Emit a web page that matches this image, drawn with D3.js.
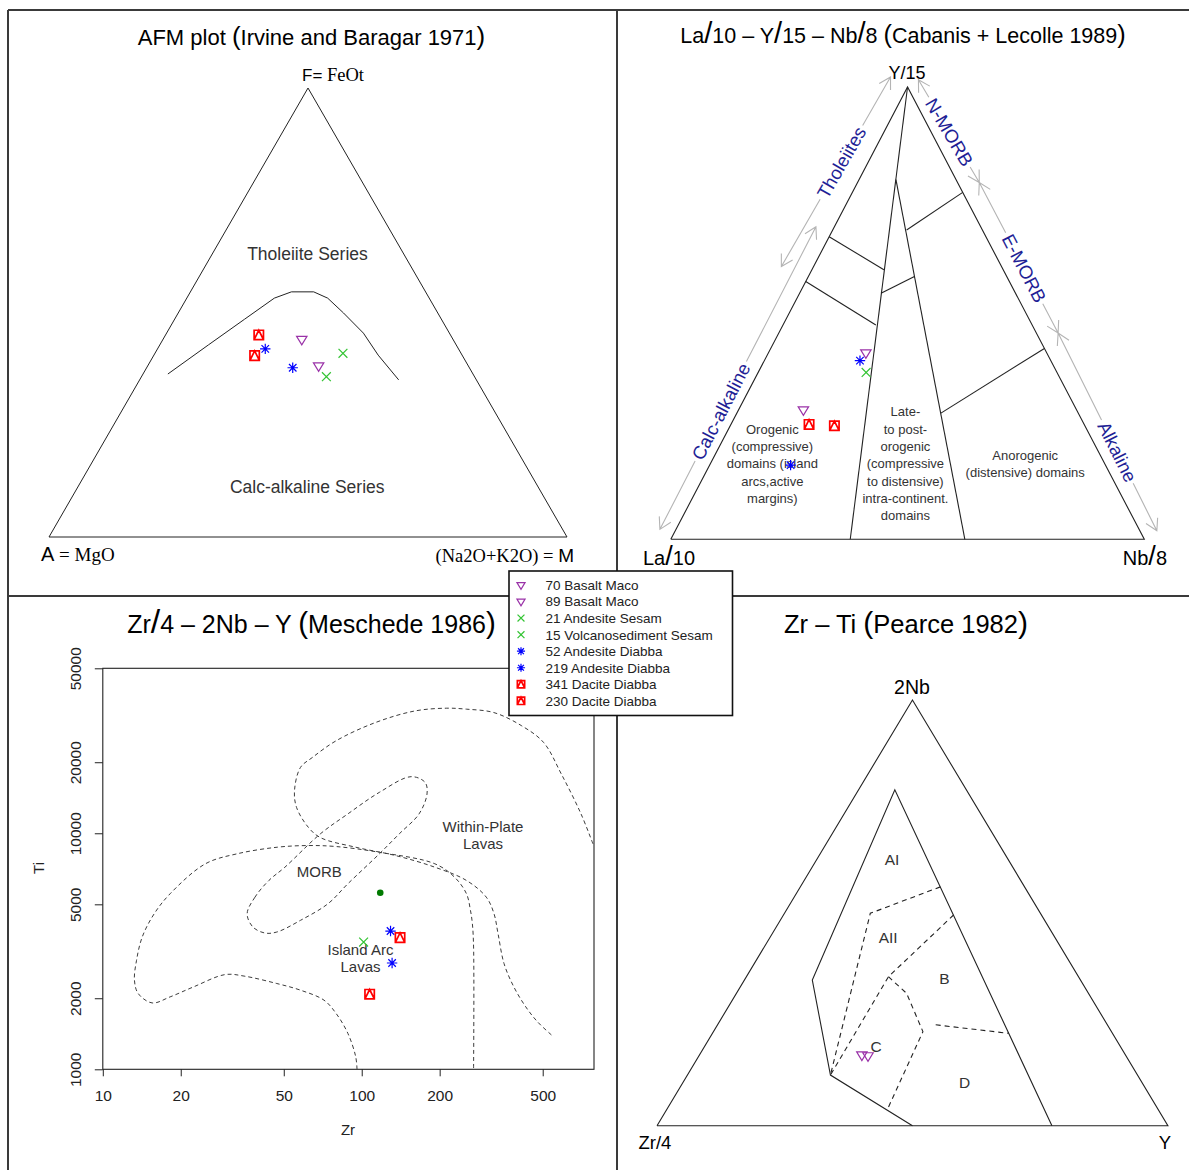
<!DOCTYPE html>
<html>
<head>
<meta charset="utf-8">
<script src="https://cdn.jsdelivr.net/npm/d3@7"></script>
<style>
  body { margin: 0; background: #fff; }
  svg { display: block; font-family: "Liberation Sans", Arial, sans-serif; }
</style>
</head>
<body>
<svg id="fig" width="1189" height="1170"></svg>
<script>
// ---- samples (legend order)
const samples = ['70 Basalt Maco', '89 Basalt Maco', '21 Andesite Sesam', '15 Volcanosediment Sesam',
                 '52 Andesite Diabba', '219 Andesite Diabba', '341 Dacite Diabba', '230 Dacite Diabba'];
const sampleSymbol = ['triangle', 'triangle', 'cross', 'cross', 'star', 'star', 'boxtri', 'boxtri'];

// ---- AFM (A, F, M), %
const afmA = [29.2, 28.9, 22.8, 28.6, 37.3, 34.1, 37.0, 40.1];
const afmF = [44.0, 38.1, 40.9, 35.7, 41.9, 37.7, 45.0, 40.4];
const afmM = [26.8, 33.0, 36.3, 35.7, 20.8, 28.2, 18.0, 19.5];
// Irvine & Baragar dividing line
const afmLineA = [58.9, 47.8, 38.0, 29.9, 25.9, 21.6, 19.6, 18.2, 16.6, 16.2, 15.0];
const afmLineF = [36.3, 42.8, 48.5, 53.2, 54.6, 54.6, 53.2, 49.9, 45.4, 40.5, 35.0];
const afmLineM = [4.8, 9.4, 13.5, 16.9, 19.5, 23.8, 27.2, 31.9, 38.0, 43.3, 50.0];

// ---- Cabanis & Lecolle (La/10, Y/15, Nb/8), %
const cabLa = [38.2, 57.7, 40.3, null, 40.3, 66.5, 58.1, 52.9];
const cabY  = [41.2, 28.6, 36.9, null, 39.5, 16.4, 25.4, 25.1];
const cabNb = [20.6, 13.7, 22.8, null, 20.2, 17.1, 16.5, 22.0];
const cabFieldLines = [
  [[0, 100, 0], [62.1, 0, 37.9]],
  [[12.7, 79.5, 7.8], [37.9, 0, 62.1]],
  [[33.1, 66.9, 0], [25.2, 59.6, 15.2]],
  [[43.0, 57.0, 0], [33.0, 47.4, 19.6]],
  [[28.4, 54.4, 17.2], [19.5, 58.1, 22.4]],
  [[16.0, 68.4, 15.6], [0, 76.7, 23.3]],
  [[29.0, 27.9, 43.1], [0, 42.2, 57.8]]
];
const cabArrowLabels = ['Tholeiites', 'Calc-alkaline', 'N-MORB', 'E-MORB', 'Alkaline'];
const cabArrowFrom = [[46.5, 60.3, -6.8], [34.8, 69.1, -3.9], [-3.1, 101.6, 1.5], [-4.6, 78.9, 25.7], [-4.6, 45.6, 59.0]];
const cabArrowTo   = [[2.5, 102.2, -4.7], [101.2, 2.2, -3.4], [-4.6, 78.9, 25.7], [-4.6, 45.6, 59.0], [-3.6, 1.9, 101.7]];
const cabArrowLabelAt = [0.55, 0.61, 0.51, 0.57, 0.60];
const cabFieldText = [
  ['Orogenic', '(compressive)', 'domains (island', 'arcs,active', 'margins)'],
  ['Late-', 'to post-', 'orogenic', '(compressive', 'to distensive)', 'intra-continent.', 'domains'],
  ['Anorogenic', '(distensive) domains']
];
const cabFieldTextAt = [[70.2, 16.7, 13.1], [42.1, 16.7, 41.2], [16.8, 16.7, 66.5]];

// ---- Zr - Ti (ppm)
const zrZr = [null, null, 101.7, null, 129.2, 131.0, 140.6, 107.3];
const zrTi = [null, null, 3461, null, 3853, 2821, 3614, 2081];
const zrDotZr = [117.9];
const zrDotTi = [5598];
const zrTicks = [10, 20, 50, 100, 200, 500];
const tiTicks = [1000, 2000, 5000, 10000, 20000, 50000];
const wplZr = [781.6, 703, 590, 504, 415, 324, 254, 213, 161, 113, 79.6, 64.5, 58.0, 55.0, 56.0, 62.2, 69.2, 94.8, 134.9, 191.6, 253.8, 302.7, 324.3, 336.1, 354.5, 386.8, 430.1, 477.5, 546.5];
const wplTi = [9020, 12080, 17830, 24250, 28520, 32460, 33560, 33880, 33000, 29460, 24650, 20950, 19010, 15150, 12880, 10600, 9590, 8727, 8050, 7183, 6311, 5363, 4563, 3757, 2805, 2234, 1839, 1589, 1383];
const arcZr = [95.9, 94.8, 88.4, 79.6, 71.5, 58.0, 47.0, 35.4, 29.7, 22.4, 18.2, 15.5, 13.7, 13.25, 13.5, 14.2, 15.8, 18.2, 24.9, 33.0, 47.1, 62.2, 79.6, 117.0, 191.6, 228.3, 253.8, 263.0, 267.5, 270.4, 270.4];
const arcTi = [1000, 1130, 1420, 1725, 1963, 2164, 2309, 2479, 2520, 2234, 2027, 1911, 2095, 2384, 2897, 3635, 4563, 5544, 7425, 8185, 8727, 8872, 8786, 8306, 7425, 6516, 5544, 4713, 4141, 3298, 1000];
const morbZr = [43.8, 38.7, 36.1, 38.0, 42.3, 47.0, 58.0, 74.1, 88.4, 117.0, 139.6, 166.5, 178.7, 175.6, 155.0, 117.0, 88.4, 69.2, 50.5];
const morbTi = [6311, 5363, 4563, 4006, 3779, 3816, 4276, 5030, 6111, 8185, 9942, 12080, 14670, 16430, 17370, 14910, 12080, 9942, 7183];
const zrText = [['Within-Plate', 'Lavas'], ['MORB'], ['Island Arc', 'Lavas']];
const zrTextZr = [294, 68.6, 98.9];
const zrTextTi = [9826, 6842, 2954];

// ---- Meschede (Zr/4, 2Nb, Y), %
const mesZr = [51.6, 50.5, null, null, null, null, null, null];
const mesNb = [16.6, 16.4, null, null, null, null, null, null];
const mesY  = [31.8, 33.1, null, null, null, null, null, null];
const mesSolid = [[50, 0, 50], [60.1, 11.9, 28.0], [52.5, 34.2, 13.3], [14.0, 78.9, 7.1], [22.7, 0, 77.3]];
const mesDashed = [
  [[16.5, 56.1, 27.4], [33.3, 49.9, 16.8], [60.1, 11.9, 28.0]],
  [[17.2, 49.5, 33.3], [37.2, 35.0, 27.8], [60.1, 11.9, 28.0]],
  [[37.2, 35.0, 27.8], [35.6, 31.1, 33.3], [36.9, 22.1, 41.0], [53.1, 3.7, 43.2]],
  [[33.6, 23.7, 42.7], [20.3, 21.7, 58.0]]
];
const mesFields = ['AI', 'AII', 'B', 'C', 'D'];
const mesFieldAt = [[22.8, 62.4, 14.8], [32.6, 44.3, 23.1], [26.5, 34.5, 39.0], [47.8, 18.6, 33.6], [34.7, 10.2, 55.1]];

// ---- styles
const symColor = { triangle: '#9a32a8', cross: '#33c433', star: '#0000ff', boxtri: '#ff0000' };
const ink = '#333';
const serif = '"Liberation Serif", "Times New Roman", serif';

const svg = d3.select('#fig');

// ternary projection: [left, top, right] -> pixels
function ternary(x0, x1, yBase, yApex) {
  const sx = d3.scaleLinear().domain([0, 1]).range([x0, x1]);
  const sy = d3.scaleLinear().domain([0, 1]).range([yBase, yApex]);
  return ([l, t, r]) => { const s = l + t + r; return [sx((r + t / 2) / s), sy(t / s)]; };
}

function drawSymbol(g, sym, x, y, k = 1) {
  const c = symColor[sym];
  const r = 5.2 * k;
  let d;
  if (sym === 'triangle') d = `M${-r},${-r * 0.6}L${r},${-r * 0.6}L0,${r * 1.05}Z`;
  else if (sym === 'cross') d = `M${-r * 0.85},${-r * 0.85}L${r * 0.85},${r * 0.85}M${-r * 0.85},${r * 0.85}L${r * 0.85},${-r * 0.85}`;
  else if (sym === 'star') {
    const q = r * 0.72;
    d = `M${-r},0L${r},0M0,${-r}L0,${r}M${-q},${-q}L${q},${q}M${-q},${q}L${q},${-q}`;
  } else {
    const q = r * 0.9;
    d = `M${-q},${-q}H${q}V${q}H${-q}Z M${-q},${q}L0,${-q}L${q},${q}`;
  }
  g.append('path').attr('d', d).attr('transform', `translate(${x},${y})`)
    .attr('fill', 'none').attr('stroke', c).attr('stroke-width', sym === 'boxtri' ? 1.7 : 1.2);
}

// plotmath-like title: tall slashes and parentheses
function title(x, y, parts, size) {
  const t = svg.append('text').attr('x', x).attr('y', y).attr('text-anchor', 'middle')
    .attr('font-size', size).attr('fill', '#000');
  parts.forEach(p => {
    if (p === '/') t.append('tspan').text('/').attr('font-size', size * 1.35).attr('font-weight', 300);
    else if (p === '(' || p === ')') t.append('tspan').text(p).attr('font-size', size * 1.18);
    else t.append('tspan').text(p);
  });
  return t;
}

// ---- panel frames
const frames = [[8, 10, 1189, 10], [8, 10, 8, 1170], [617, 10, 617, 1170], [8, 596, 1189, 596]];
svg.append('g').selectAll('line').data(frames).join('line')
  .attr('x1', d => d[0]).attr('y1', d => d[1]).attr('x2', d => d[2]).attr('y2', d => d[3])
  .attr('stroke', '#3a3a3a').attr('stroke-width', 2);

const lineT = proj => d3.line().x(d => proj(d)[0]).y(d => proj(d)[1]);
const corners = [[100, 0, 0], [0, 100, 0], [0, 0, 100], [100, 0, 0]];

// ================= AFM
{
  const p = ternary(49, 567, 537, 88);
  const g = svg.append('g');
  g.append('path').attr('d', lineT(p)(corners)).attr('fill', 'none').attr('stroke', '#222').attr('stroke-width', 1);
  const boundary = afmLineA.map((a, i) => [a, afmLineF[i], afmLineM[i]]);
  g.append('path').attr('d', lineT(p)(boundary)).attr('fill', 'none').attr('stroke', '#222').attr('stroke-width', 1);
  title(311.5, 45, ['AFM plot ', '(', 'Irvine and Baragar 1971', ')'], 22);
  const f = g.append('text').attr('x', 302).attr('y', 81).attr('fill', '#000');
  f.append('tspan').text('F=').attr('font-size', 17);
  f.append('tspan').text(' FeOt').attr('font-family', serif).attr('font-size', 18.5);
  const a = g.append('text').attr('x', 41).attr('y', 561).attr('fill', '#000');
  a.append('tspan').text('A').attr('font-size', 20);
  a.append('tspan').text(' = MgO').attr('font-family', serif).attr('font-size', 19);
  const m = g.append('text').attr('x', 574).attr('y', 562).attr('text-anchor', 'end').attr('fill', '#000');
  m.append('tspan').text('(Na2O+K2O) =  ').attr('font-family', serif).attr('font-size', 18.5);
  m.append('tspan').text('M').attr('font-size', 19);
  [['Tholeiite Series', [18.6, 63.0, 18.4]], ['Calc-alkaline Series', [44.6, 11.1, 44.3]]].forEach(([s, at]) => {
    const [x, y] = p(at);
    g.append('text').attr('x', x).attr('y', y).attr('dy', '0.35em').attr('text-anchor', 'middle')
      .attr('font-size', 17.5).attr('fill', ink).text(s);
  });
  samples.forEach((s, i) => {
    if (afmA[i] == null) return;
    const [x, y] = p([afmA[i], afmF[i], afmM[i]]);
    drawSymbol(g, sampleSymbol[i], x, y);
  });
}

// ================= Cabanis & Lecolle
{
  const p = ternary(670.8, 1144.3, 539.3, 87);
  const g = svg.append('g');
  title(903, 43, ['La', '/', '10 \u2013 Y', '/', '15 \u2013 Nb', '/', '8 ', '(', 'Cabanis + Lecolle 1989', ')'], 21.5);

  // labelled double arrows
  const arrowHead = (x, y, ux, uy) => {
    const L = 13, a = Math.PI / 6;
    const b1 = [x - L * (ux * Math.cos(a) - uy * Math.sin(a)), y - L * (uy * Math.cos(a) + ux * Math.sin(a))];
    const b2 = [x - L * (ux * Math.cos(-a) - uy * Math.sin(-a)), y - L * (uy * Math.cos(-a) + ux * Math.sin(-a))];
    return `M${b1[0]},${b1[1]}L${x},${y}L${b2[0]},${b2[1]}`;
  };
  cabArrowLabels.forEach((lab, i) => {
    const [x1, y1] = p(cabArrowFrom[i]), [x2, y2] = p(cabArrowTo[i]);
    const L = Math.hypot(x2 - x1, y2 - y1), ux = (x2 - x1) / L, uy = (y2 - y1) / L;
    const t = cabArrowLabelAt[i];
    const cx = x1 + (x2 - x1) * t, cy = y1 + (y2 - y1) * t;
    let deg = Math.atan2(uy, ux) * 180 / Math.PI;
    if (deg > 90) deg -= 180; if (deg < -90) deg += 180;
    const txt = g.append('text').attr('transform', `translate(${cx},${cy}) rotate(${deg})`)
      .attr('text-anchor', 'middle').attr('dy', '0.36em').attr('font-size', 18.5).attr('fill', '#1f1f96').text(lab);
    const half = txt.node().getComputedTextLength() / 2 + 3;
    const dT = t * L;
    const d = `M${x1},${y1}L${x1 + ux * (dT - half)},${y1 + uy * (dT - half)}` +
              `M${x1 + ux * (dT + half)},${y1 + uy * (dT + half)}L${x2},${y2}` +
              arrowHead(x2, y2, ux, uy) + arrowHead(x1, y1, -ux, -uy);
    g.insert('path', 'text').attr('d', d).attr('fill', 'none').attr('stroke', '#b4b4b4').attr('stroke-width', 1.1);
  });

  g.append('path').attr('d', lineT(p)(corners)).attr('fill', 'none').attr('stroke', '#222').attr('stroke-width', 1.1);
  cabFieldLines.forEach(l => g.append('path').attr('d', lineT(p)(l)).attr('fill', 'none').attr('stroke', '#222').attr('stroke-width', 1.1));

  cabFieldText.forEach((lines, i) => {
    const [x, y] = p(cabFieldTextAt[i]);
    const t = g.append('text').attr('text-anchor', 'middle').attr('font-size', 13).attr('fill', ink);
    lines.forEach((s, j) => t.append('tspan').attr('x', x)
      .attr('y', y + (j - (lines.length - 1) / 2) * 17.3).attr('dy', '0.35em').text(s));
  });

  const la = g.append('text').attr('x', 643).attr('y', 565).attr('font-size', 20).attr('fill', '#000');
  la.append('tspan').text('La');
  la.append('tspan').text('/').attr('font-size', 27).attr('font-weight', 300);
  la.append('tspan').text('10');
  const nb = g.append('text').attr('x', 1167).attr('y', 565).attr('text-anchor', 'end').attr('font-size', 20).attr('fill', '#000');
  nb.append('tspan').text('Nb');
  nb.append('tspan').text('/').attr('font-size', 27).attr('font-weight', 300);
  nb.append('tspan').text('8');
  g.append('text').attr('x', 907).attr('y', 79).attr('text-anchor', 'middle').attr('font-size', 18).attr('fill', '#000').text('Y/15');

  samples.forEach((s, i) => {
    if (cabLa[i] == null) return;
    const [x, y] = p([cabLa[i], cabY[i], cabNb[i]]);
    drawSymbol(g, sampleSymbol[i], x, y);
  });
}

// ================= Zr - Ti (log-log)
{
  const g = svg.append('g');
  const x = d3.scaleLog().domain([10, 789]).range([102.8, 594]);
  const y = d3.scaleLog().domain([1000, 50000]).range([1069.3, 668.3]);
  title(311.5, 633, ['Zr', '/', '4 \u2013 2Nb \u2013 Y ', '(', 'Meschede 1986', ')'], 25);

  svg.append('clipPath').attr('id', 'zrclip').append('rect')
    .attr('x', 102.8).attr('y', 668.3).attr('width', 594 - 102.8).attr('height', 1069.3 - 668.3);

  const curve = d3.line().x(d => x(d[0])).y(d => y(d[1]));
  const cg = g.append('g').attr('clip-path', 'url(#zrclip)').attr('fill', 'none')
    .attr('stroke', '#3c3c3c').attr('stroke-width', 1).attr('stroke-dasharray', '4,3');
  cg.append('path').attr('d', curve.curve(d3.curveCatmullRom.alpha(0.5))(wplZr.map((v, i) => [v, wplTi[i]])));
  cg.append('path').attr('d', curve.curve(d3.curveCatmullRom.alpha(0.5))(arcZr.map((v, i) => [v, arcTi[i]])));
  cg.append('path').attr('d', curve.curve(d3.curveCatmullRomClosed.alpha(0.5))(morbZr.map((v, i) => [v, morbTi[i]])));

  g.append('rect').attr('x', 102.8).attr('y', 668.3).attr('width', 594 - 102.8).attr('height', 1069.3 - 668.3)
    .attr('fill', 'none').attr('stroke', '#222').attr('stroke-width', 1.1);

  const ax = g.append('g').attr('transform', 'translate(0,1069.3)')
    .call(d3.axisBottom(x).tickValues(zrTicks).tickFormat(d3.format('d')).tickSize(7).tickPadding(14));
  const ay = g.append('g').attr('transform', 'translate(102.8,0)')
    .call(d3.axisLeft(y).tickValues(tiTicks).tickFormat(d3.format('d')).tickSize(8));
  [ax, ay].forEach(a => {
    a.select('.domain').remove();
    a.selectAll('line').attr('stroke', '#222');
    a.selectAll('text').attr('font-size', 15.5).attr('fill', '#222').attr('font-family', '"Liberation Sans", Arial, sans-serif');
  });
  ay.selectAll('text').attr('transform', 'rotate(-90)').attr('x', 0).attr('y', -27).attr('dy', '0.36em')
    .attr('text-anchor', 'middle');
  g.append('text').attr('x', 348).attr('y', 1135).attr('text-anchor', 'middle').attr('font-size', 15).attr('fill', '#222').text('Zr');
  g.append('text').attr('transform', 'translate(38.5,868) rotate(-90)').attr('dy', '0.36em')
    .attr('text-anchor', 'middle').attr('font-size', 15).attr('fill', '#222').text('Ti');

  zrText.forEach((lines, i) => {
    const t = g.append('text').attr('text-anchor', 'middle').attr('font-size', 15).attr('fill', ink);
    lines.forEach((s, j) => t.append('tspan').attr('x', x(zrTextZr[i]))
      .attr('y', y(zrTextTi[i]) + (j - (lines.length - 1) / 2) * 17.5).attr('dy', '0.35em').text(s));
  });

  zrDotZr.forEach((v, i) => g.append('circle').attr('cx', x(v)).attr('cy', y(zrDotTi[i])).attr('r', 3.3).attr('fill', '#007a00'));
  samples.forEach((s, i) => {
    if (zrZr[i] == null) return;
    drawSymbol(g, sampleSymbol[i], x(zrZr[i]), y(zrTi[i]));
  });
}

// ================= Meschede ternary (titled Zr - Ti)
{
  const p = ternary(657, 1167.9, 1125.7, 700);
  const g = svg.append('g');
  title(906, 633, ['Zr \u2013 Ti ', '(', 'Pearce 1982', ')'], 25.5);
  g.append('path').attr('d', lineT(p)(corners)).attr('fill', 'none').attr('stroke', '#222').attr('stroke-width', 1.1);
  g.append('path').attr('d', lineT(p)(mesSolid)).attr('fill', 'none').attr('stroke', '#222').attr('stroke-width', 1.1);
  mesDashed.forEach(l => g.append('path').attr('d', lineT(p)(l)).attr('fill', 'none')
    .attr('stroke', '#222').attr('stroke-width', 1.1).attr('stroke-dasharray', '5,4'));
  mesFields.forEach((s, i) => {
    const [x, y] = p(mesFieldAt[i]);
    g.append('text').attr('x', x).attr('y', y).attr('dy', '0.35em').attr('text-anchor', 'middle')
      .attr('font-size', 15.5).attr('fill', ink).text(s);
  });
  g.append('text').attr('x', 912).attr('y', 694).attr('text-anchor', 'middle').attr('font-size', 19.5).attr('fill', '#000').text('2Nb');
  g.append('text').attr('x', 638.5).attr('y', 1149).attr('font-size', 18.5).attr('fill', '#000').text('Zr/4');
  g.append('text').attr('x', 1171).attr('y', 1149).attr('text-anchor', 'end').attr('font-size', 18.5).attr('fill', '#000').text('Y');
  samples.forEach((s, i) => {
    if (mesZr[i] == null) return;
    const [x, y] = p([mesZr[i], mesNb[i], mesY[i]]);
    drawSymbol(g, sampleSymbol[i], x, y);
  });
}

// ================= legend
{
  const g = svg.append('g');
  g.append('rect').attr('x', 509).attr('y', 571).attr('width', 223.5).attr('height', 144.5)
    .attr('fill', '#fff').attr('stroke', '#111').attr('stroke-width', 1.6);
  samples.forEach((s, i) => {
    const yy = 585 + i * 16.55;
    drawSymbol(g, sampleSymbol[i], 521, yy, 0.78);
    g.append('text').attr('x', 545.5).attr('y', yy).attr('dy', '0.36em').attr('font-size', 13.5).attr('fill', '#222').text(s);
  });
}
</script>
</body>
</html>
